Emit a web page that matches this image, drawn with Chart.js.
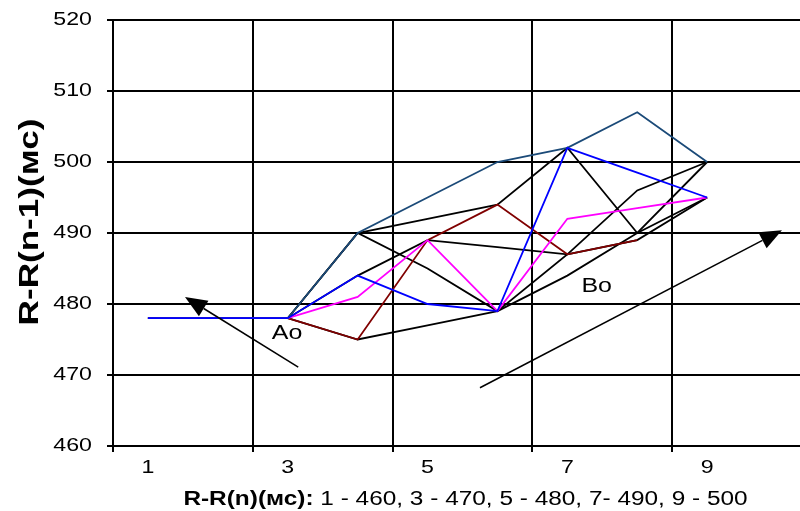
<!DOCTYPE html>
<html>
<head>
<meta charset="utf-8">
<script src="https://cdn.jsdelivr.net/npm/chart.js@4"></script>
<style>
  html, body { margin: 0; padding: 0; background: #fff; overflow: hidden; }
  #wrap { width: 800px; height: 511px; overflow: hidden; }
</style>
</head>
<body>
<div id="wrap"><canvas id="graph" width="813" height="511"></canvas></div>
<script>
// categories of the x axis (only odd ones are labelled)
const categories = ['1', '2', '3', '4', '5', '6', '7', '8', '9', '10'];

// series, one value per category
const navySeries    = [478, 478, 478, 490, 495, 500, 502, 507, 500];
const blueSeries    = [478, 478, 478, 484, 480, 479, 502, 498.5, 495];
const magentaSeries = [478, 478, 478, 481, 489, 479, 492, 493.5, 495];
const redSeries     = [478, 478, 478, 475, 489, 494, 487, 489, null];
const black1 = [478, 478, 478, 490, 492, 494, 502, 490, 500];
const black2 = [478, 478, 478, 490, 485, 479, 484, 490, 495];
const black3 = [478, 478, 478, 484, 489, 488, 487, 496, 500];
const black4 = [478, 478, 478, 475, 477, 479, 487, 489, 495];

const yTicks = [460, 470, 480, 490, 500, 510, 520];

// arrows: [fromIndex, fromValue, toIndex, toValue]
const arrows = [[2.15, 471.1, 0.53, 481.0], [4.75, 468.2, 9.07, 490.4]];
// notes: [text, index, value]
const notes = [['Ao', 1.99, 475.9], ['Bo', 6.42, 482.4]];

const yTitle = 'R-R(n-1)(мс)';
const xTitleBold = 'R-R(n)(мс):';
const xTitleRest = ' 1 - 460, 3 - 470, 5 - 480, 7- 490, 9 - 500';

const FONT = '"Liberation Sans", Arial, sans-serif';
const STRETCH = 1.22; // the original text is drawn wider than plain Arial

function line(data, color, order) {
  return {
    data: data, borderColor: color, borderWidth: 1.8, pointRadius: 0,
    tension: 0, fill: false, order: order
  };
}

function text(c, str, x, y, font, align, base, sx) {
  c.save();
  c.translate(x, y);
  c.scale(sx, 1);
  c.font = font;
  c.textAlign = align;
  c.textBaseline = base;
  c.fillText(str, 0, 0);
  c.restore();
}

const extras = {
  id: 'extras',
  afterDatasetsDraw(chart) {
    const c = chart.ctx, x = chart.scales.x, y = chart.scales.y;
    c.save();
    c.strokeStyle = '#000';
    c.fillStyle = '#000';
    c.lineWidth = 1.5;
    arrows.forEach(a => {
      const x1 = x.getPixelForValue(a[0]), y1 = y.getPixelForValue(a[1]);
      const x2 = x.getPixelForValue(a[2]), y2 = y.getPixelForValue(a[3]);
      const ang = Math.atan2(y2 - y1, x2 - x1);
      const len = 22, hw = 9;
      const bx = x2 - len * Math.cos(ang), by = y2 - len * Math.sin(ang);
      c.beginPath();
      c.moveTo(x1, y1);
      c.lineTo(bx, by);
      c.stroke();
      c.beginPath();
      c.moveTo(x2, y2);
      c.lineTo(bx + hw * Math.sin(ang), by - hw * Math.cos(ang));
      c.lineTo(bx - hw * Math.sin(ang), by + hw * Math.cos(ang));
      c.closePath();
      c.fill();
    });
    notes.forEach(n => {
      text(c, n[0], x.getPixelForValue(n[1]), y.getPixelForValue(n[2]),
        '20px ' + FONT, 'center', 'middle', 1.25);
    });
    c.restore();
  },
  afterDraw(chart) {
    const c = chart.ctx, x = chart.scales.x, y = chart.scales.y;
    c.save();
    c.fillStyle = '#000';
    // y tick labels
    yTicks.forEach(v => {
      text(c, String(v), 92, y.getPixelForValue(v), '19px ' + FONT, 'right', 'middle', STRETCH);
    });
    // x tick labels, every other category
    categories.forEach((lab, i) => {
      if (i % 2 === 0) {
        text(c, lab, x.getPixelForValue(i), 468, '19px ' + FONT, 'center', 'middle', STRETCH);
      }
    });
    // y title
    c.save();
    c.translate(31, 222);
    c.rotate(-Math.PI / 2);
    c.scale(1.3, 1);
    c.font = 'bold 27px ' + FONT;
    c.textAlign = 'center';
    c.textBaseline = 'middle';
    c.fillText(yTitle, 0, 0);
    c.restore();
    // x title: bold part + plain part
    c.font = 'bold 20px ' + FONT;
    const w1 = c.measureText(xTitleBold).width;
    c.font = '20px ' + FONT;
    const w2 = c.measureText(xTitleRest).width;
    const start = 465.5 - (w1 + w2) * STRETCH / 2;
    c.save();
    c.translate(start, 505);
    c.scale(STRETCH, 1);
    c.textBaseline = 'alphabetic';
    c.textAlign = 'left';
    c.font = 'bold 20px ' + FONT;
    c.fillText(xTitleBold, 0, 0);
    c.font = '20px ' + FONT;
    c.fillText(xTitleRest, w1, 0);
    c.restore();
    c.restore();
  }
};

const ctx = document.getElementById('graph').getContext('2d');
const chart = new Chart(ctx, {
  type: 'line',
  data: {
    labels: categories,
    datasets: [
      line(blueSeries, '#0000ff', 0),
      line(navySeries, '#1b4a78', 1),
      line(magentaSeries, '#ff00ff', 2),
      line(redSeries, '#800000', 3),
      line(black1, '#000', 4),
      line(black2, '#000', 5),
      line(black3, '#000', 6),
      line(black4, '#000', 7)
    ]
  },
  options: {
    responsive: false,
    animation: false,
    events: [],
    layout: { padding: { top: 20, right: 1, left: 0, bottom: 0 } },
    plugins: { legend: { display: false }, tooltip: { enabled: false } },
    scales: {
      x: {
        offset: true,
        grid: {
          offset: true,
          color: c => (c.index % 2 === 0 ? '#000' : 'rgba(0,0,0,0)'),
          lineWidth: 2,
          tickLength: 6
        },
        border: { display: true, color: '#000', width: 2 },
        ticks: { display: false, autoSkip: false },
        afterFit: s => { s.height = 65; }
      },
      y: {
        min: yTicks[0],
        max: yTicks[yTicks.length - 1],
        afterBuildTicks: s => { s.ticks = yTicks.map(v => ({ value: v })); },
        grid: { color: '#000', lineWidth: 2, tickLength: 6 },
        border: { display: true, color: '#000', width: 2 },
        ticks: { display: false },
        afterFit: s => { s.width = 113; }
      }
    }
  },
  plugins: [extras]
});
</script>
</body>
</html>
